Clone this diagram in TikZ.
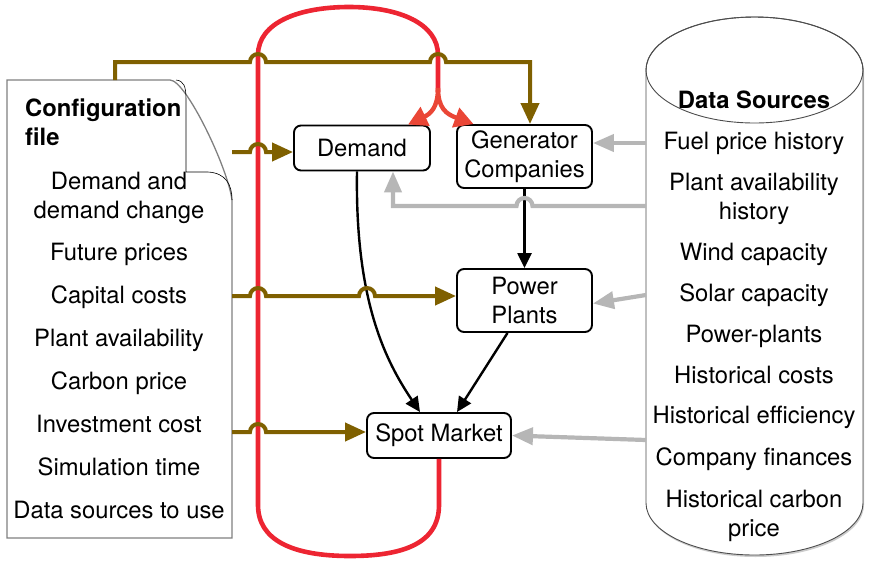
\documentclass[tikz,border=0pt]{standalone}
\usepackage{fontspec}
\setmainfont{TeX Gyre Heros}
\usepackage{tikz}
\usetikzlibrary{arrows.meta, positioning, shadows}

\definecolor{loopred}{RGB}{237,37,50}
\definecolor{splitred}{RGB}{234,70,54}
\definecolor{cfgbrown}{RGB}{127,96,0}
\definecolor{srcgray}{RGB}{182,182,182}

\begin{document}
\begin{tikzpicture}[x=1pt,y=-1pt]
    \tikzstyle{txt}=[font=\fontsize{23.8}{29}\selectfont, inner sep=0pt, align=center, text height=18pt, text depth=3pt];
    \tikzstyle{txtml}=[font=\fontsize{23.8}{29}\selectfont, inner sep=0pt, align=center];
    \tikzstyle{ttl}=[txt, font=\fontsize{23.8}{29}\selectfont\bfseries];
    \tikzstyle{box}=[draw, line width=1.9pt, rounded corners=7pt, fill=white, font=\fontsize{23.8}{29}\selectfont, align=center, inner sep=0pt];
    \tikzstyle{flow}=[line width=2.4pt, -{Triangle[length=15pt,width=14pt]}];
    \tikzstyle{cfg}=[cfgbrown, line width=4pt, -{Triangle[length=21pt,width=18pt]}];
    \tikzstyle{src}=[srcgray, line width=4.2pt, -{Triangle[length=21pt,width=17pt]}];
    \tikzstyle{redline}=[loopred, line width=4.6pt];
    \tikzstyle{split}=[splitred, line width=4.4pt, -{Triangle[length=19pt,width=20pt]}];

    \useasboundingbox (0,0) rectangle (873,566);

    % configuration file
    \draw[gray, line width=1.3pt, fill=white] (7,80) -- (170,80) .. controls (186,80) and (228,168) .. (232,200) -- (232,538) -- (7,538) -- cycle;
    \draw[line width=0.6pt] (176,80) .. controls (184,81) and (186,86) .. (186,100) -- (186,172) -- (208,172) .. controls (226,173) and (232,185) .. (232,200);
    \node[txtml, font=\fontsize{23.8}{29}\selectfont\bfseries, anchor=west, align=left] (cfgttl) at (25,122.5) {Configuration\\file};
    \node[txtml] (cfgdem) at (119,198) {Demand and\\demand change};
    \foreach \txt/\yy/\nm in {Future prices/253/fut, Capital costs/296/cap, Plant availability/339/avail,
        Carbon price/382/carb, Investment cost/425/inv, Simulation time/468/sim, Data sources to use/511/use} {
        \node[txt] (\nm) at (119,\yy) {\txt};
    }
    \coordinate (outDem) at (232,152);
    \coordinate (outCap) at (232,296);
    \coordinate (outInv) at (232,432);
    \coordinate (outTop) at (115,80);

    % data sources
    \draw[line width=0.9pt, draw=black!70, fill=white, drop shadow={shadow xshift=1pt, shadow yshift=-2pt, opacity=0.4}]
        (646,70) -- (646,503) arc[start angle=180, end angle=0, x radius=108.5, y radius=52]
        -- (863,70) arc[start angle=0, end angle=-180, x radius=108.5, y radius=53] -- cycle;
    \draw[line width=0.9pt, draw=black!70] (754.5,70) ellipse[x radius=108.5, y radius=53];
    \node[ttl] (dsttl) at (754,101) {Data Sources};
    \node[txt] (fuel) at (754,142) {Fuel price history};
    \node[txtml] (plhist) at (754,199) {Plant availability\\history};
    \foreach \txt/\yy/\nm in {Wind capacity/253/wind, Solar capacity/294/solar, Power-plants/335/plants,
        Historical costs/376/hcost, Historical efficiency/416/heff, Company finances/458/fin} {
        \node[txt] (\nm) at (754,\yy) {\txt};
    }
    \node[txtml] (hcarb) at (754,515.5) {Historical carbon\\price};
    \coordinate (inGen) at (646,143);
    \coordinate (inDem) at (646,206);
    \coordinate (inPP) at (646,295);
    \coordinate (inSpot) at (646,440);

    % model
    \node[box, minimum width=136pt, minimum height=45pt] (dem) at (362,148) {Demand};
    \node[box, minimum width=135pt, minimum height=63pt] (gen) at (524.5,156.5) {Generator\\Companies};
    \node[box, minimum width=135pt, minimum height=63pt] (pp) at (524.5,300.5) {Power\\Plants};
    \node[box, minimum width=144pt, minimum height=45pt] (spot) at (439,435.5) {Spot Market};

    % simulation loop
    \draw[redline] (spot.south) -- (439,505) .. controls (439,545) and (400,556) .. (350,556)
        .. controls (292,556) and (258,540) .. (258,505) -- (258,55)
        .. controls (258,22) and (300,7) .. (349,7) .. controls (400,7) and (438,24) .. (438,55) -- (438,92);
    \draw[split] (438,88) .. controls (438,108) and (430,114) .. ([xshift=46pt]dem.north);
    \draw[split] (438,88) .. controls (438,108) and (446,114) .. ([xshift=-51pt]gen.north);

    % model flows
    \draw[flow] ([xshift=-5pt]dem.south) .. controls (355,300) and (385,360) .. ([xshift=-19pt]spot.north);
    \draw[flow] (gen.south) -- (pp.north);
    \draw[flow] ([xshift=-17pt]pp.south) -- ([xshift=18pt]spot.north);

    % configuration inputs
    \draw[cfg] (outTop) -- (115,62) -- (250,62) arc[start angle=180, end angle=360, radius=8]
        -- (430,62) arc[start angle=180, end angle=360, radius=8] -- (530,62) -- (gen.north -| 530,0);
    \draw[cfg] (outDem) -- (250,152) arc[start angle=180, end angle=360, radius=8] -- (dem.west |- outDem);
    \draw[cfg] (outCap) -- (250,296) arc[start angle=180, end angle=360, radius=8]
        -- (359,296) arc[start angle=180, end angle=360, radius=8] -- (pp.west |- outCap);
    \draw[cfg] (outInv) -- (250,432) arc[start angle=180, end angle=360, radius=8] -- (spot.west |- outInv);

    % data inputs
    \draw[src] (inGen) -- (gen.east |- inGen);
    \draw[src] (inDem) -- (532.5,206) arc[start angle=0, end angle=-180, radius=8] -- (393,206) -- (dem.south -| 393,0);
    \draw[src] (inPP) -- ([yshift=-3pt]pp.east);
    \draw[src] (inSpot) -- (spot.east);
\end{tikzpicture}
\end{document}
